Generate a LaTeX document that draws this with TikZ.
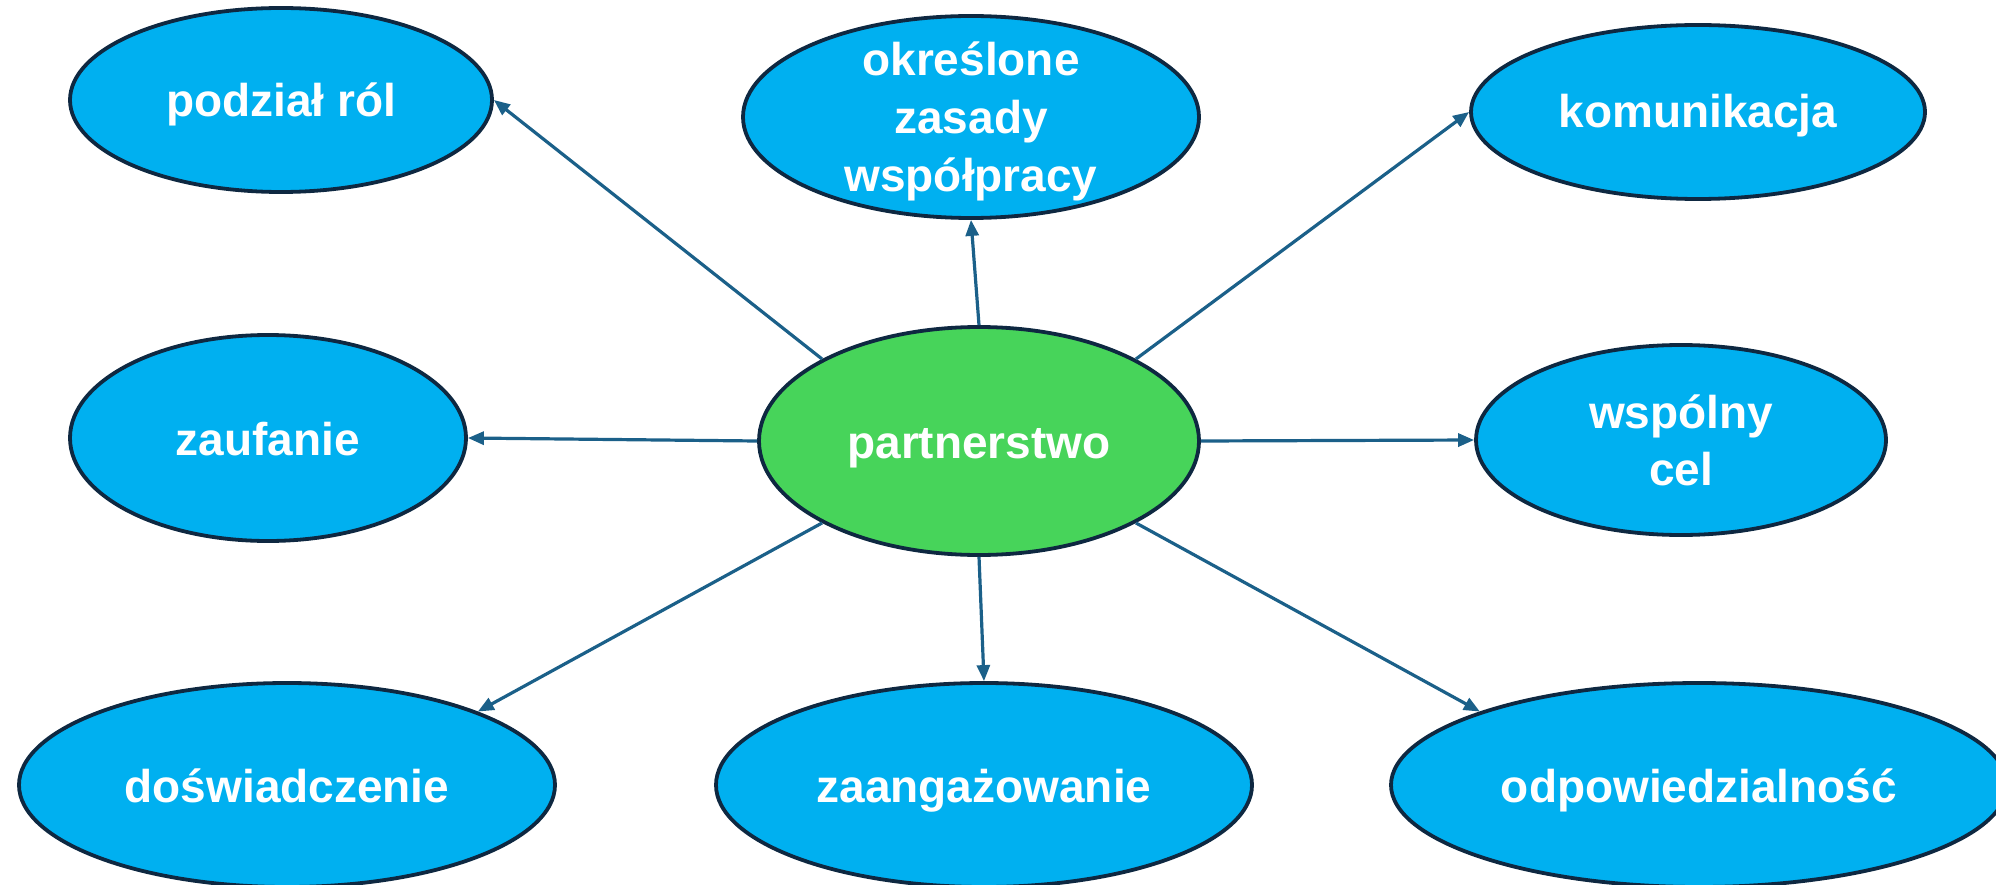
\documentclass[tikz,border=0pt]{standalone}
\usepackage{fontspec}
\setmainfont{Liberation Sans}
\usetikzlibrary{arrows.meta,shapes.geometric}
\definecolor{bubblue}{HTML}{00B0F0}
\definecolor{bubgreen}{HTML}{47D45A}
\definecolor{outl}{HTML}{0E2841}
\definecolor{conn}{HTML}{1B6089}
\begin{document}
\begin{tikzpicture}[x=1pt,y=-1pt,
  bub/.style={ellipse, draw=outl, line width=3.8pt, fill=bubblue, inner sep=0pt},
  hub/.style={bub, fill=bubgreen},
  lbl/.style={anchor=base, text=white, font=\fontsize{46}{54}\selectfont\bfseries, inner sep=0pt},
  link/.style={draw=conn, line width=3.2pt, -{Triangle[length=16pt,width=13pt]}}]
\useasboundingbox (0,0) rectangle (1996,885);
\clip (0,0) rectangle (1996,885);
% ellipses
\node[bub, minimum width=422pt, minimum height=184pt] (podzial) at (281,100) {};
\node[bub, minimum width=456pt, minimum height=202pt] (okreslone) at (971,117) {};
\node[bub, minimum width=454pt, minimum height=174pt] (komunikacja) at (1698,112) {};
\node[bub, minimum width=396pt, minimum height=206pt] (zaufanie) at (268,438) {};
\node[hub, minimum width=440pt, minimum height=228pt] (partner) at (979,441) {};
\node[bub, minimum width=410pt, minimum height=190pt] (wspolny) at (1681,440) {};
\node[bub, minimum width=536pt, minimum height=204pt] (doswiadczenie) at (287,785) {};
\node[bub, minimum width=536pt, minimum height=204pt] (zaangazowanie) at (984,785) {};
\node[bub, minimum width=616pt, minimum height=204pt] (odpowiedzialnosc) at (1699,785) {};
% labels
\node[lbl] (tpodzial) at (281,117) {podział ról};
\node[lbl] (tokr1) at (971,76) {określone};
\node[lbl] (tokr2) at (971,134) {zasady};
\node[lbl] (tokr3) at (971,192) {współpracy};
\node[lbl] (tkom) at (1698,128) {komunikacja};
\node[lbl] (tzauf) at (268,455) {zaufanie};
\node[lbl] (tpart) at (979,458) {partnerstwo};
\node[lbl] (twsp1) at (1681,428) {wspólny};
\node[lbl] (twsp2) at (1681,485) {cel};
\node[lbl] (tdos) at (287,802) {doświadczenie};
\node[lbl] (tzaang) at (984,802) {zaangażowanie};
\node[lbl] (todp) at (1699,802) {odpowiedzialność};
% connectors
\draw[link] (partner.north west) -- (podzial.east);
\draw[link] (partner.north) -- (okreslone.south);
\draw[link] (partner.north east) -- (komunikacja.west);
\draw[link] (partner.west) -- (zaufanie.east);
\draw[link] (partner.east) -- (wspolny.west);
\draw[link] (partner.south west) -- (doswiadczenie.north east);
\draw[link] (partner.south) -- (zaangazowanie.north);
\draw[link] (partner.south east) -- (odpowiedzialnosc.north west);
\end{tikzpicture}
\end{document}
